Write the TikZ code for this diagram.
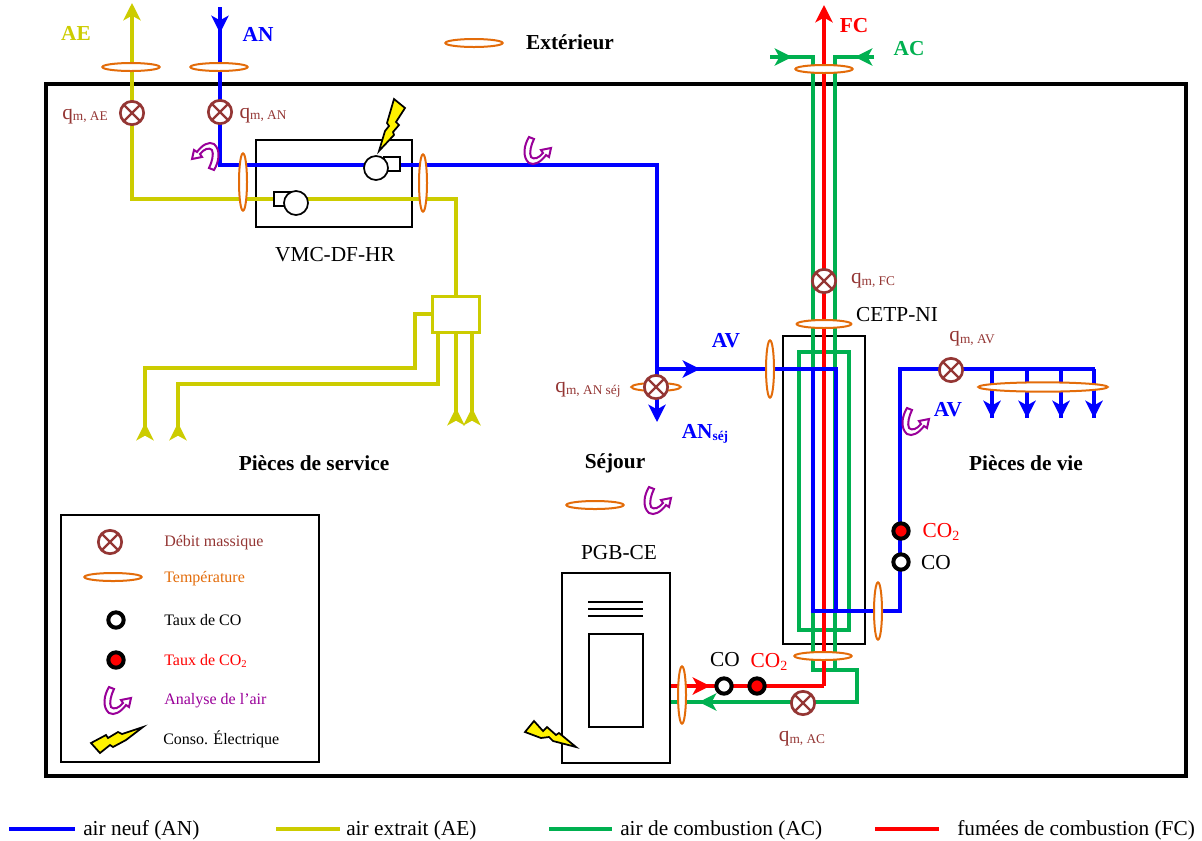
\documentclass[tikz,border=0pt]{standalone}
\usepackage{fontspec}
\setmainfont{Liberation Serif}
\usetikzlibrary{arrows.meta,shapes.geometric,backgrounds}
\definecolor{cblue}{RGB}{0,0,255}
\definecolor{cyel}{RGB}{204,204,0}
\definecolor{cgreen}{RGB}{0,176,80}
\definecolor{cred}{RGB}{255,0,0}
\definecolor{cbrown}{RGB}{148,54,52}
\definecolor{corange}{RGB}{227,108,10}
\definecolor{cpurple}{RGB}{153,0,153}
\pgfdeclarelayer{framelayer}
\pgfdeclarelayer{pipelayer}
\pgfsetlayers{framelayer,pipelayer,main}
\newcommand{\lowr}[1]{\raisebox{-2pt}{\fontsize{10.5}{12}\selectfont #1}}
\newcommand{\qm}[1]{{\fontsize{16}{18}\selectfont q}\raisebox{-1pt}{\fontsize{10}{12}\selectfont #1}}
\tikzset{
  x=0.75pt,y=-0.75pt,
  pipe/.style={line width=3pt,line join=miter},
  thinpipe/.style={line width=2.3pt,line join=miter},
  bluep/.style={pipe,draw=cblue},
  yelp/.style={pipe,draw=cyel},
  yelt/.style={thinpipe,draw=cyel},
  greenp/.style={pipe,draw=cgreen},
  redp/.style={pipe,draw=cred},
  head/.style={-{Stealth[length=13pt,width=13pt,inset=3.5pt]}},
  mass/.style={circle,draw=cbrown,fill=white,line width=2pt,minimum size=17.5pt,inner sep=0pt,
    path picture={\draw[cbrown,line width=1.7pt]
      (path picture bounding box.north west)--(path picture bounding box.south east)
      (path picture bounding box.north east)--(path picture bounding box.south west);}},
  temph/.style={ellipse,draw=corange,fill=white,line width=1.5pt,minimum width=43pt,minimum height=6pt,inner sep=0pt},
  tempv/.style={ellipse,draw=corange,fill=white,line width=1.5pt,minimum width=6pt,minimum height=43pt,inner sep=0pt},
  cosens/.style={circle,draw=black,fill=white,line width=3pt,minimum size=11.5pt,inner sep=0pt},
  cotwo/.style={cosens,fill=cred},
  fan/.style={circle,draw=black,fill=white,line width=1.3pt,minimum size=18pt,inner sep=0pt},
  fanbox/.style={draw=black,fill=white,line width=1.3pt},
  boxline/.style={draw=black,line width=1.4pt},
  bolt/.style={draw=black,fill=yellow,line width=1.3pt,line join=miter},
  lbl/.style={font=\fontsize{16}{18}\selectfont,inner sep=0pt},
  blbl/.style={font=\fontsize{16}{18}\selectfont\bfseries,inner sep=0pt},
  qlbl/.style={text=cbrown,inner sep=0pt},
  leg/.style={font=\fontsize{12}{14}\selectfont,inner sep=0pt,anchor=base west},
  airpic/.pic={\draw[cpurple,line width=1.5pt,line join=miter,fill=white]
    (-7,-14) .. controls (-12,-6) and (-14,6) .. (-7,12)
    .. controls (-2,15) and (5,11) .. (10,4) -- (13,6) -- (15,-3) -- (5,-1) -- (7,2)
    .. controls (3,7) and (-2,9) .. (-5,6)
    .. controls (-7,2) and (-5,-6) .. (-2,-12) -- cycle;},
}
\begin{document}
\begin{tikzpicture}
\useasboundingbox (0,0) rectangle (1202,840);

% ---- sensors: mass flow
\node[mass] (qAE) at (132,113) {};
\node[mass] (qAN) at (220,112) {};
\node[mass] (qFC) at (824,281) {};
\node[temph,minimum width=37pt] (tSej) at (656,387) {};
\node[mass] (qSej) at (656,387) {};
\node[mass] (qAV) at (951,370) {};
\node[mass] (qAC) at (803,703) {};
\node[mass] (lgQ) at (110,542) {};

% ---- sensors: temperature
\node[temph] (tAE) at (131,67) {};
\node[temph] (tAN) at (219,67) {};
\node[temph] (tExt) at (474,43) {};
\node[temph] (tTop) at (824,69) {};
\node[temph,minimum width=41pt] (tMid) at (824,324) {};
\node[temph,minimum width=97pt,minimum height=7pt] (tVie) at (1043,387) {};
\node[temph] (tSal) at (595,505) {};
\node[temph] (tBot) at (823,656) {};
\node[tempv] (tV1) at (243,182) {};
\node[tempv] (tV2) at (423,183) {};
\node[tempv] (tV3) at (770,369) {};
\node[tempv] (tV4) at (878,611) {};
\node[tempv] (tV5) at (682,695) {};
\node[temph] (lgT) at (113,577) {};

% ---- sensors: CO, CO2
\node[cosens] (coA) at (724,686) {};
\node[cotwo] (co2A) at (757,686) {};
\node[cotwo] (co2B) at (901,531) {};
\node[cosens] (coB) at (901,562) {};
\node[cosens] (lgCO) at (116,620) {};
\node[cotwo] (lgCO2) at (116,660) {};

% ---- fans
\node[fanbox,minimum width=12.5pt,minimum height=10.5pt,inner sep=0pt] (fb1) at (392,164) {};
\node[fan] (f1) at (376,168) {};
\node[fanbox,minimum width=12.5pt,minimum height=10.5pt,inner sep=0pt] (fb2) at (282,199) {};
\node[fan] (f2) at (296,203) {};

% ---- yellow manifold
\node[draw=cyel,line width=2.6pt,fill=white,minimum width=35pt,minimum height=27pt,inner sep=0pt] (mani) at (456,314.5) {};

% ---- boxes and frame
\begin{pgfonlayer}{framelayer}
  \draw[black,line width=3pt] (46,84) rectangle (1186,776);
  \draw[boxline] (256,140) rectangle (412,227);
  \draw[boxline] (783,336) rectangle (865,644);
  \draw[black,line width=1.8pt] (61,515) rectangle (319,762);
\end{pgfonlayer}
\draw[boxline] (562,573) rectangle (670,763);
\draw[boxline] (589,634) rectangle (643,727);
\draw[boxline] (588,602) -- (643,602);
\draw[boxline] (588,609) -- (643,609);
\draw[boxline] (588,616) -- (643,616);

% ---- pipes
\coordinate (aeTop) at (132,3);
\coordinate (aeCorner) at (132,199);
\coordinate (manCorner) at (456,199);
\coordinate (anTop) at (220,7);
\coordinate (anArrow) at (220,33);
\coordinate (anCorner) at (220,165);
\coordinate (avCorner) at (657,165);
\coordinate (sejTip) at (657,422);
\coordinate (avJ) at (657,369);
\coordinate (avTip) at (700,369);
\coordinate (in2) at (836,369);
\coordinate (in3) at (836,611);
\coordinate (out1) at (813,369);
\coordinate (out2) at (813,611);
\coordinate (out3) at (900,611);
\coordinate (out4) at (900,369);
\coordinate (out5) at (1095,369);
\coordinate (d1) at (992,369);  \coordinate (d1t) at (992,418);
\coordinate (d2) at (1027,369); \coordinate (d2t) at (1027,418);
\coordinate (d3) at (1061,369); \coordinate (d3t) at (1061,418);
\coordinate (d4) at (1094,369); \coordinate (d4t) at (1094,418);
\coordinate (fcTop) at (824,5);
\coordinate (fcBot) at (824,686);
\coordinate (fcEnd) at (670,686);
\coordinate (fcTip) at (710,686);
\coordinate (acL) at (770,57);
\coordinate (acLt) at (792,57);
\coordinate (acLc) at (813,57);
\coordinate (acR) at (874,57);
\coordinate (acRt) at (855,57);
\coordinate (acRc) at (835,57);
\coordinate (acBR2) at (835,630);
\coordinate (acLow) at (813,670);
\coordinate (acLowR) at (857,670);
\coordinate (acLowD) at (857,702);
\coordinate (acEnd) at (670,702);
\coordinate (acTip) at (699,702);
\coordinate (y1a) at (432,314);
\coordinate (y1b) at (415,314);
\coordinate (y1c) at (415,368);
\coordinate (y1d) at (145,368);
\coordinate (y1e) at (145,436);
\coordinate (y1t) at (145,423);
\coordinate (y2a) at (438,333);
\coordinate (y2b) at (438,384);
\coordinate (y2c) at (178,384);
\coordinate (y2d) at (178,436);
\coordinate (y2t) at (178,423);
\coordinate (y3a) at (456,333);
\coordinate (y3b) at (456,421);
\coordinate (y3t) at (456,408);
\coordinate (y4a) at (472,333);
\coordinate (y4b) at (472,421);
\coordinate (y4t) at (472,408);

\begin{pgfonlayer}{pipelayer}
  % yellow
  \draw[yelp] (mani.north) -- (manCorner) -- (aeCorner) -- (132,30);
  \draw[yelp,head] (132,40) -- (aeTop);
  \draw[yelt] (y1a) -- (y1b) -- (y1c) -- (y1d) -- (y1e);
  \draw[yelt] (y2a) -- (y2b) -- (y2c) -- (y2d);
  \draw[yelt] (y3a) -- (y3b);
  \draw[yelt] (y4a) -- (y4b);
  % green
  \draw[greenp] (acL) -- (acLc) -- (acLow) -- (acLowR) -- (acLowD) -- (acEnd);
  \draw[greenp] (acR) -- (acRc) -- (acBR2 |- acLow);
  \draw[greenp] (799,352) rectangle (849,630);
  % red
  \draw[redp,head] (fcBot) -- (fcTop);
  \draw[redp] (fcBot) -- (fcEnd);
  % blue
  \draw[bluep] (anTop) -- (anCorner) -- (avCorner) -- (avJ);
  \draw[bluep] (avJ) -- (in2) -- (in3);
  \draw[bluep,head] (avJ) -- (sejTip);
  \draw[bluep] (out1) -- (out2) -- (out3) -- (out4) -- (out5);
  \draw[bluep] (d1) -- (d1t);
  \draw[bluep] (d2) -- (d2t);
  \draw[bluep] (d3) -- (d3t);
  \draw[bluep] (d4) -- (d4t);
\end{pgfonlayer}
% arrowheads placed over the pipes
\begin{pgfonlayer}{pipelayer}
  \draw[bluep,head] (220,12) -- (anArrow);
  \draw[bluep,head] (680,369) -- (avTip);
  \draw[bluep,head] (d1|-0,395) -- (d1t);
  \draw[bluep,head] (d2|-0,395) -- (d2t);
  \draw[bluep,head] (d3|-0,395) -- (d3t);
  \draw[bluep,head] (d4|-0,395) -- (d4t);
  \draw[redp,head] (690,686) -- (fcTip);
  \draw[greenp,head] (720,702) -- (acTip);
  \draw[greenp,head] (772,57) -- (acLt);
  \draw[greenp,head] (874,57) -- (acRt);
  \draw[yelt,head] (y1e) -- (y1t);
  \draw[yelt,head] (y2d) -- (y2t);
  \draw[yelt,head] (y3b) -- (y3t);
  \draw[yelt,head] (y4b) -- (y4t);
\end{pgfonlayer}

% ---- lightning bolts
\draw[bolt] (394,99) -- (405,108) -- (396,122) -- (399,125) -- (393,132) -- (394,135) -- (379,151)
  -- (385,131) -- (389,126) -- (387,123) -- cycle;
\draw[bolt] (525,732) -- (534,721) -- (543,731) -- (547,727) -- (556,735) -- (559,733) -- (576,747)
  -- (553,741) -- (549,737) -- (541,738) -- cycle;
\draw[bolt] (91,743) -- (100,753) -- (110,745) -- (113,747) -- (126,740) -- (143,727)
  -- (122,734) -- (118,732) -- (108,738) -- (106,735) -- cycle;

% ---- air analysis icons
\pic at (116,701) {airpic};
\pic at (536,151) {airpic};
\pic at (656,501) {airpic};
\pic at (914,422) {airpic};
\pic[rotate=180] at (207,156) {airpic};

% ---- labels
\node[blbl,text=cyel] (tAEl) at (76,33) {AE};
\node[blbl,text=cblue] (tANl) at (258,34) {AN};
\node[blbl] (tExtl) at (570,42) {Extérieur};
\node[blbl,text=cred] (tFCl) at (854,26) {FC};
\node[blbl,text=cgreen] (tACl) at (909,49) {AC};
\node[blbl,text=cblue] (tAV1) at (726,341) {AV};
\node[blbl,text=cblue] (tAV2) at (948,410) {AV};
\node[blbl,text=cblue] (tANs) at (705,434) {AN\raisebox{-2pt}{\fontsize{10}{12}\selectfont séj}};
\node[blbl] (tPS) at (314,463) {Pièces de service};
\node[blbl] (tSe) at (615,463) {Séjour};
\node[blbl] (tPV) at (1026,463) {Pièces de vie};
\node[lbl] (tVMC) at (335,255) {VMC-DF-HR};
\node[lbl] (tCETP) at (897,315) {CETP-NI};
\node[lbl] (tPGB) at (619,553) {PGB-CE};
\node[lbl] (tCO1) at (725,660) {CO};
\node[lbl,text=cred] (tCO21) at (769,662) {CO\lowr{2}};
\node[lbl,text=cred] (tCO22) at (941,532) {CO\lowr{2}};
\node[lbl] (tCO2) at (936,563) {CO};
\node[qlbl] (lqAE) at (85,116.5) {\qm{m, AE}};
\node[qlbl] (lqAN) at (263,115.5) {\qm{m, AN}};
\node[qlbl] (lqFC) at (873,281) {\qm{m, FC}};
\node[qlbl] (lqAV) at (972,339) {\qm{m, AV}};
\node[qlbl] (lqSe) at (588,390) {\qm{m, AN séj}};
\node[qlbl] (lqAC) at (802,739) {\qm{m, AC}};

% ---- legend texts
\node[leg,text=cbrown] (l1) at (164,546) {Débit massique};
\node[leg,text=corange] (l2) at (164,582) {Température};
\node[leg] (l3) at (164,625) {Taux de CO};
\node[leg,text=cred] (l4) at (164,665) {Taux de CO\raisebox{-1.5pt}{\fontsize{8}{9}\selectfont 2}};
\node[leg,text=cpurple] (l5) at (164,704) {Analyse de l’air};
\node[leg] (l6) at (163,744) {Conso. Électrique};

% ---- bottom key
\coordinate (k1a) at (9,829);   \coordinate (k1b) at (75,829);
\coordinate (k2a) at (276,829); \coordinate (k2b) at (340,829);
\coordinate (k3a) at (549,829); \coordinate (k3b) at (612,829);
\coordinate (k4a) at (875,829); \coordinate (k4b) at (939,829);
\draw[bluep] (k1a) -- (k1b);
\draw[yelp] (k2a) -- (k2b);
\draw[greenp] (k3a) -- (k3b);
\draw[redp] (k4a) -- (k4b);
\node[lbl,anchor=west] (k1) at (83,830) {air neuf (AN)};
\node[lbl,anchor=west] (k2) at (346,830) {air extrait (AE)};
\node[lbl,anchor=west] (k3) at (620,830) {air de combustion (AC)};
\node[lbl,anchor=west] (k4) at (957,830) {fumées de combustion (FC)};
\end{tikzpicture}
\end{document}
